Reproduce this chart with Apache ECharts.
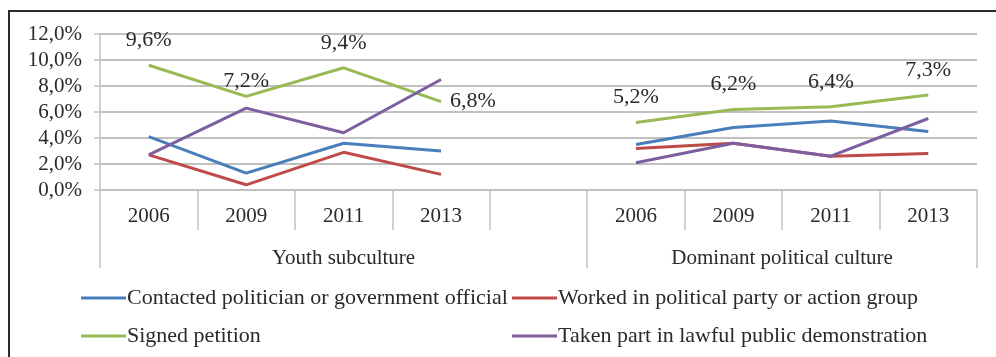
<!DOCTYPE html>
<html>
<head>
<meta charset="utf-8">
<script src="https://cdn.jsdelivr.net/npm/echarts@6/dist/echarts.min.js"></script>
<style>
  html, body { margin: 0; padding: 0; background: #fff; }
  #frame { position: absolute; left: 8px; top: 10px; width: 1200px; height: 600px;
           border-left: 2px solid #2b2b2b; border-top: 2px solid #2b2b2b; }
  #chart { position: absolute; left: 0; top: 0; width: 996px; height: 357px; }
</style>
</head>
<body>
<div id="frame"></div>
<div id="chart"></div>
<script>
// Survey years and the two culture groups they belong to
const years = ['2006', '2009', '2011', '2013'];
const groups = ['Youth subculture', 'Dominant political culture'];

// Share of respondents (%) per activity, youth vs dominant culture
const contactedYouth = [4.1, 1.3, 3.6, 3.0];
const contactedDominant = [3.5, 4.8, 5.3, 4.5];
const workedYouth = [2.7, 0.4, 2.9, 1.2];
const workedDominant = [3.2, 3.6, 2.6, 2.8];
const petitionYouth = [9.6, 7.2, 9.4, 6.8];
const petitionDominant = [5.2, 6.2, 6.4, 7.3];
const demoYouth = [2.7, 6.3, 4.4, 8.5];
const demoDominant = [2.1, 3.6, 2.6, 5.5];

const seriesNames = [
  'Contacted politician or government official',
  'Worked in political party or action group',
  'Signed petition',
  'Taken part in lawful public demonstration'
];
const colors = ['#4a7ebb', '#be4b48', '#98b954', '#7d5fa0'];

// One blank slot separates the two groups on the category axis
const categories = years.concat([''], years);
const join = (a, b) => a.concat(['-'], b);

const FONT = '"Liberation Serif", "Times New Roman", serif';
const TEXT = '#2a2a2a';
const GRID = '#c0c0c0';
const AXIS_FS = 21;
const LEGEND_FS = 22;
const pct = v => Number(v).toFixed(1).replace('.', ',') + '%';

// Placement of the value labels on the petition line
const labelPlacement = {
  1: { position: 'top', distance: 4 },
  3: { position: 'right', distance: 9 }
};
const petitionData = join(petitionYouth, petitionDominant).map((v, i) => {
  if (v === '-') return v;
  const p = labelPlacement[i] || { position: 'top', distance: 14 };
  return { value: v, label: Object.assign({ show: true }, p) };
});

const chart = echarts.init(document.getElementById('chart'), null, { renderer: 'canvas' });

const lineSeries = (name, data, color, extra) => Object.assign({
  name, type: 'line', data, symbol: 'none', color,
  lineStyle: { width: 3, color },
  emphasis: { disabled: true },
  animation: false
}, extra || {});

const legendText = { fontFamily: FONT, fontSize: LEGEND_FS, color: TEXT, lineHeight: 22, padding: [0, 0, 0, -4] };
const legendBase = {
  orient: 'vertical', top: 287, itemGap: 16, padding: 0, height: 70,
  icon: 'rect', itemWidth: 45, itemHeight: 3,
  textStyle: legendText
};

chart.setOption({
  backgroundColor: 'transparent',
  textStyle: { fontFamily: FONT, color: TEXT },
  grid: { left: 100, right: 19, top: 34, bottom: 167 },
  legend: [
    Object.assign({ data: [seriesNames[0], seriesNames[2]], left: 81 }, legendBase),
    Object.assign({ data: [seriesNames[1], seriesNames[3]], left: 512 }, legendBase)
  ],
  xAxis: [
    {
      type: 'category', data: categories, position: 'bottom', boundaryGap: true,
      axisLine: { show: true, lineStyle: { color: GRID, width: 1.5 } },
      axisTick: { show: true, interval: 0, length: 40, lineStyle: { color: GRID, width: 1.5 } },
      axisLabel: { interval: 0, margin: 16, fontFamily: FONT, fontSize: AXIS_FS, color: TEXT },
      splitLine: { show: false }
    },
    {
      type: 'value', min: 0, max: categories.length, position: 'bottom', offset: 40,
      axisLine: { show: false },
      axisTick: { show: true, length: 38, customValues: [0, years.length + 1, categories.length],
                  lineStyle: { color: GRID, width: 1.5 } },
      axisLabel: {
        customValues: [(years.length + 1) / 2, years.length + 1 + years.length / 2],
        margin: 18, fontFamily: FONT, fontSize: AXIS_FS, color: TEXT,
        formatter: v => (v < years.length + 1 ? groups[0] : groups[1])
      },
      splitLine: { show: false }
    }
  ],
  yAxis: {
    type: 'value', min: 0, max: 12, interval: 2,
    axisLine: { show: true, lineStyle: { color: GRID, width: 1.5 } },
    axisTick: { show: true, length: 6, lineStyle: { color: GRID, width: 1.5 } },
    axisLabel: { margin: 18, fontFamily: FONT, fontSize: AXIS_FS, color: TEXT, formatter: pct },
    splitLine: { show: true, lineStyle: { color: GRID, width: 2 } }
  },
  series: [
    lineSeries(seriesNames[0], join(contactedYouth, contactedDominant), colors[0]),
    lineSeries(seriesNames[1], join(workedYouth, workedDominant), colors[1]),
    lineSeries(seriesNames[2], petitionData, colors[2], {
      symbol: 'circle', symbolSize: 0, showSymbol: true,
      label: { show: true, fontFamily: FONT, fontSize: LEGEND_FS, color: TEXT,
               formatter: p => pct(p.value) }
    }),
    lineSeries(seriesNames[3], join(demoYouth, demoDominant), colors[3])
  ]
});
</script>
</body>
</html>
